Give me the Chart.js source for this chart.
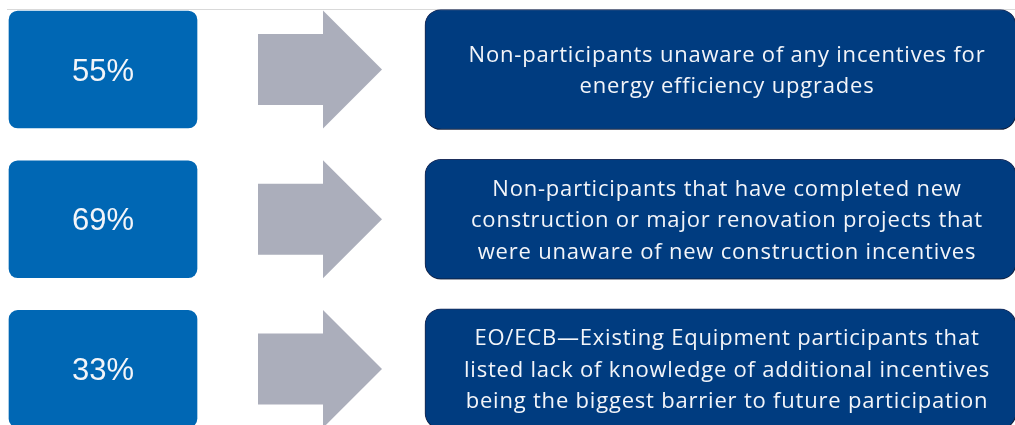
<!DOCTYPE html>
<html>
<head>
<meta charset="utf-8">
<script src="https://cdn.jsdelivr.net/npm/chart.js@4/dist/chart.umd.min.js"></script>
<style>
  html, body { margin: 0; padding: 0; background: #ffffff; }
  #wrap { width: 1015px; height: 425px; position: relative; }
</style>
</head>
<body>
<div id="wrap"><canvas id="infoChart" width="1015" height="425"></canvas></div>
<script>
// Figures shown in the left boxes
const ROWS = [0, 1, 2];
const PERCENTS = [55, 69, 33];
// Text in the right boxes, one array of lines per row
const DESCRIPTIONS = [
    ['Non-participants unaware of any incentives for', 'energy efficiency upgrades'],
    ['Non-participants that have completed new', 'construction or major renovation projects that', 'were unaware of new construction incentives'],
    ['EO/ECB\u2014Existing Equipment participants that', 'listed lack of knowledge of additional incentives', 'being the biggest barrier to future participation'],
];

// Colors
const LEFT_BLUE = '#0067b4';
const RIGHT_NAVY = '#003c80';
const RIGHT_BORDER = '#1e3160';
const ARROW_GREY = '#abaebb';
const TEXT_WHITE = '#f3f5f9';

// Layout (pixels on the x layout scale)
const LEFT_BOX = [9, 197];
const RIGHT_BOX = [425, 1016];
const ARROW = { x0: 258, neck: 323, tip: 382, shaft: 35.5, head: 59 };
const TEXT_X = 727;
const LINE_H = 31.5;

// Arrows, the rule at the top and all labels
const overlayPlugin = {
    id: 'overlay',
    beforeDatasetsDraw(chart) {
        const { ctx, scales: { x, y } } = chart;
        ctx.save();
        ctx.strokeStyle = '#d9d9d9';
        ctx.lineWidth = 1;
        ctx.beginPath();
        ctx.moveTo(x.getPixelForValue(7), 9.5);
        ctx.lineTo(x.getPixelForValue(1015), 9.5);
        ctx.stroke();

        ctx.fillStyle = ARROW_GREY;
        ROWS.forEach(r => {
            const c = y.getPixelForValue(r);
            ctx.beginPath();
            ctx.moveTo(x.getPixelForValue(ARROW.x0), c - ARROW.shaft);
            ctx.lineTo(x.getPixelForValue(ARROW.neck), c - ARROW.shaft);
            ctx.lineTo(x.getPixelForValue(ARROW.neck), c - ARROW.head);
            ctx.lineTo(x.getPixelForValue(ARROW.tip), c);
            ctx.lineTo(x.getPixelForValue(ARROW.neck), c + ARROW.head);
            ctx.lineTo(x.getPixelForValue(ARROW.neck), c + ARROW.shaft);
            ctx.lineTo(x.getPixelForValue(ARROW.x0), c + ARROW.shaft);
            ctx.closePath();
            ctx.fill();
        });
        ctx.restore();
    },
    beforeDatasetDraw(chart, args) {
        if (args.index === 1) {
            const ctx = chart.ctx;
            ctx.save();
            ctx.shadowColor = 'rgba(0, 0, 0, 0.45)';
            ctx.shadowBlur = 4;
            ctx.shadowOffsetX = 1;
            ctx.shadowOffsetY = 3;
        }
    },
    afterDatasetDraw(chart, args) {
        if (args.index === 1) chart.ctx.restore();
    },
    afterDatasetsDraw(chart) {
        const { ctx, scales: { x, y } } = chart;
        ctx.save();
        ctx.fillStyle = TEXT_WHITE;
        ctx.textAlign = 'center';
        ctx.textBaseline = 'alphabetic';
        ROWS.forEach(r => {
            const c = y.getPixelForValue(r);
            ctx.letterSpacing = '0px';
            ctx.font = '31px "Liberation Sans", Arial, sans-serif';
            ctx.fillText(PERCENTS[r] + '%', x.getPixelForValue((LEFT_BOX[0] + LEFT_BOX[1]) / 2), c + 11);

            ctx.font = '22px "Open Sans", sans-serif';
            ctx.letterSpacing = '0.8px';
            const lines = DESCRIPTIONS[r];
            lines.forEach((line, j) => {
                const base = c + (j - (lines.length - 1) / 2) * LINE_H + 8;
                ctx.fillText(line, x.getPixelForValue(TEXT_X), base);
            });
        });
        ctx.restore();
    }
};

new Chart(document.getElementById('infoChart'), {
    type: 'bar',
    data: {
        datasets: [{
            label: 'Share',
            data: ROWS.map(r => ({ y: r, x: LEFT_BOX })),
            backgroundColor: LEFT_BLUE,
            borderWidth: 0,
            borderRadius: 9,
            borderSkipped: false,
            barThickness: 117,
            grouped: false,
        }, {
            label: 'Finding',
            data: ROWS.map(r => ({ y: r, x: RIGHT_BOX })),
            backgroundColor: RIGHT_NAVY,
            borderColor: RIGHT_BORDER,
            borderWidth: 1,
            borderRadius: 16,
            borderSkipped: false,
            barThickness: 120,
            grouped: false,
        }]
    },
    options: {
        indexAxis: 'y',
        responsive: false,
        animation: false,
        layout: { padding: 0 },
        plugins: {
            legend: { display: false },
            tooltip: { enabled: false },
        },
        scales: {
            x: { type: 'linear', min: 0, max: 1015, display: false },
            y: { type: 'linear', min: -0.4643, max: 2.3747, reverse: true, offset: false, display: false },
        }
    },
    plugins: [overlayPlugin]
});
</script>
</body>
</html>
